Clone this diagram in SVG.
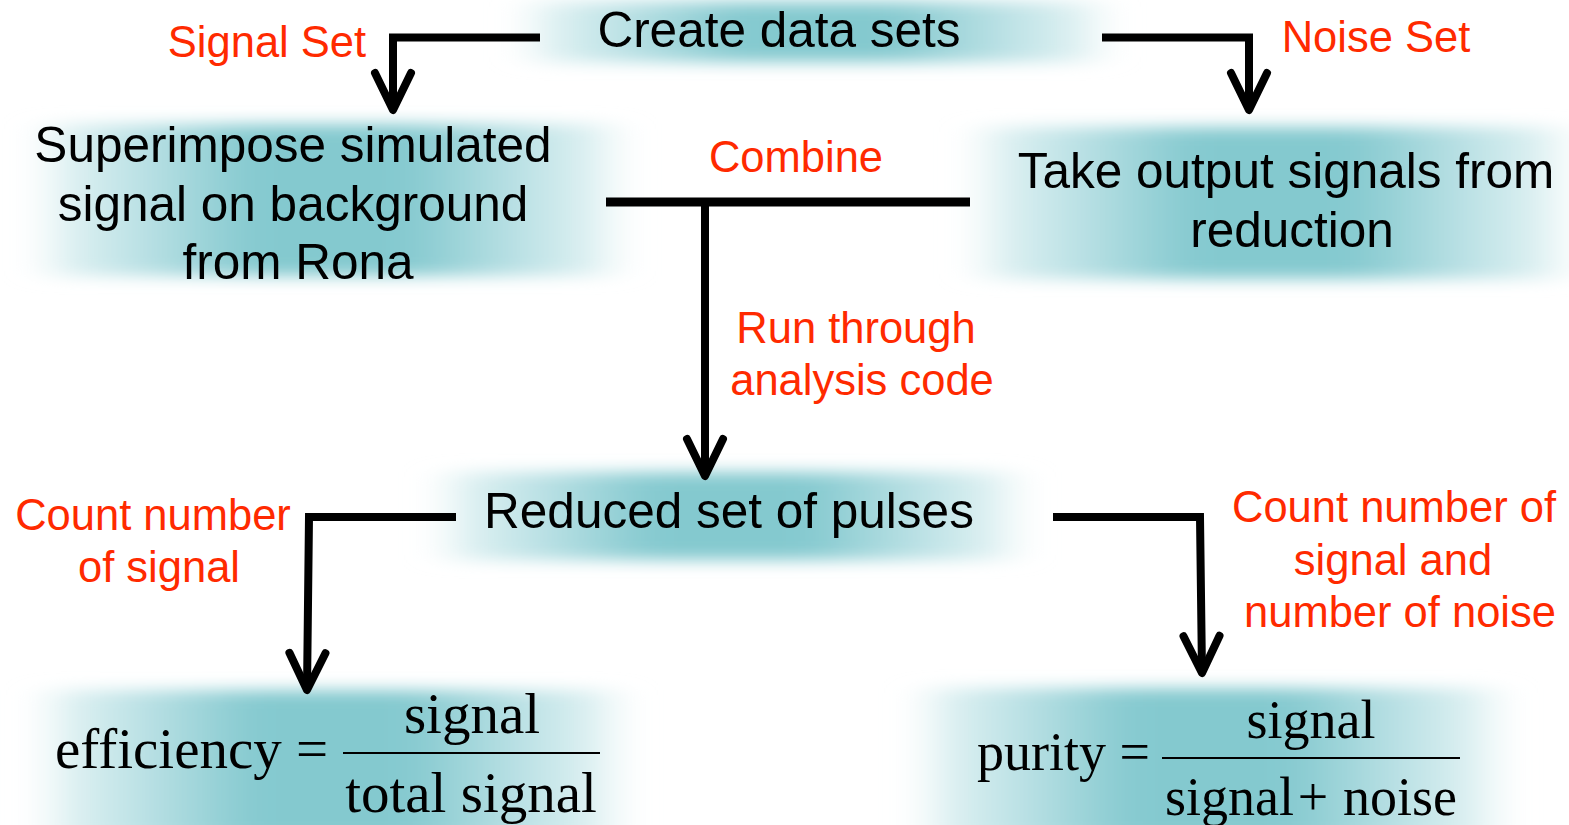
<svg xmlns="http://www.w3.org/2000/svg" width="1569" height="825" viewBox="0 0 1569 825">
<style>
.glow{fill:url(#tealH);filter:url(#soft)}
.blk{font-family:"Liberation Sans",Arial,sans-serif;font-size:49.5px;fill:#000;text-anchor:middle}
.red{font-family:"Liberation Sans",Arial,sans-serif;font-size:43.5px;fill:#ff2a00;text-anchor:middle}
.math{font-family:"Liberation Serif","Times New Roman",serif;font-size:57px;fill:#000}
.conn{fill:none;stroke:#000;stroke-width:8;stroke-linejoin:miter}
.frac{stroke:#000;stroke-width:2}
</style>
<defs>
<linearGradient id="tealH" x1="0" y1="0" x2="1" y2="0">
<stop offset="0" stop-color="#e6f4f5"/>
<stop offset="0.18" stop-color="#b6dfe3"/>
<stop offset="0.36" stop-color="#84c9cf"/>
<stop offset="0.64" stop-color="#84c9cf"/>
<stop offset="0.82" stop-color="#b6dfe3"/>
<stop offset="1" stop-color="#e6f4f5"/>
</linearGradient>
<filter id="soft" x="-50%" y="-50%" width="200%" height="200%">
<feGaussianBlur stdDeviation="22 8"/>
</filter>
<marker id="ah" markerUnits="userSpaceOnUse" markerWidth="60" markerHeight="60" viewBox="-50 -30 60 60" refX="0" refY="0" orient="auto" overflow="visible">
<path d="M-37,-18 L0,0 L-37,18" fill="none" stroke="#000" stroke-width="8" stroke-linecap="round" stroke-linejoin="round"/>
</marker>
</defs>
<rect width="1569" height="825" fill="#fff"/>

<g id="create">
<rect class="glow" x="535" y="2" width="560" height="60"/>
<text class="blk" x="779" y="47">Create data sets</text>
</g>

<g id="superimpose">
<rect class="glow" x="50" y="124" width="560" height="152"/>
<text class="blk" x="293" y="162">Superimpose simulated</text>
<text class="blk" x="293" y="221">signal on background</text>
<text class="blk" x="298" y="279">from Rona</text>
</g>

<g id="takeoutput">
<rect class="glow" x="985" y="127" width="574" height="152"/>
<text class="blk" x="1286" y="188">Take output signals from</text>
<text class="blk" x="1292" y="247">reduction</text>
</g>

<g id="reduced">
<rect class="glow" x="450" y="472" width="560" height="88"/>
<text class="blk" x="729" y="528">Reduced set of pulses</text>
</g>

<g id="efficiency">
<rect class="glow" x="52" y="690" width="560" height="150"/>
<text class="math" x="55" y="768">efficiency =</text>
<text class="math" x="472" y="733" text-anchor="middle">signal</text>
<line class="frac" x1="343" y1="753" x2="600" y2="753"/>
<text class="math" x="471" y="812" text-anchor="middle">total signal</text>
</g>

<g id="purity">
<rect class="glow" x="930" y="688" width="562" height="152"/>
<text class="math" x="977" y="770" style="font-size:54px">purity =</text>
<text class="math" x="1311" y="738" text-anchor="middle" style="font-size:54px">signal</text>
<line class="frac" x1="1162" y1="758" x2="1460" y2="758"/>
<text class="math" x="1165" y="815" style="font-size:54px">signal</text>
<text class="math" x="1313" y="815" text-anchor="middle" style="font-size:54px">+</text>
<text class="math" x="1343" y="815" style="font-size:54px">noise</text>
</g>

<g id="labels">
<text class="red" x="267" y="57">Signal Set</text>
<text class="red" x="1376" y="52">Noise Set</text>
<text class="red" x="796" y="172">Combine</text>
<text class="red" x="856" y="343">Run through</text>
<text class="red" x="862" y="395">analysis code</text>
<text class="red" x="153" y="530">Count number</text>
<text class="red" x="159" y="582">of signal</text>
<text class="red" x="1394" y="522">Count number of</text>
<text class="red" x="1393" y="575">signal and</text>
<text class="red" x="1400" y="627">number of noise</text>
</g>

<g id="connectors">
<path class="conn" d="M540,37.5 L393,37.5 L393,110" marker-end="url(#ah)"/>
<path class="conn" d="M1102,37.5 L1249,37.5 L1249,110" marker-end="url(#ah)"/>
<path class="conn" d="M606,202 L970,202" style="stroke-width:9"/>
<path class="conn" d="M705,202 L705,476" marker-end="url(#ah)"/>
<path class="conn" d="M456,517 L309,517 L307,690" marker-end="url(#ah)"/>
<path class="conn" d="M1053,517 L1200,517 L1202,673" marker-end="url(#ah)"/>
</g>
</svg>
